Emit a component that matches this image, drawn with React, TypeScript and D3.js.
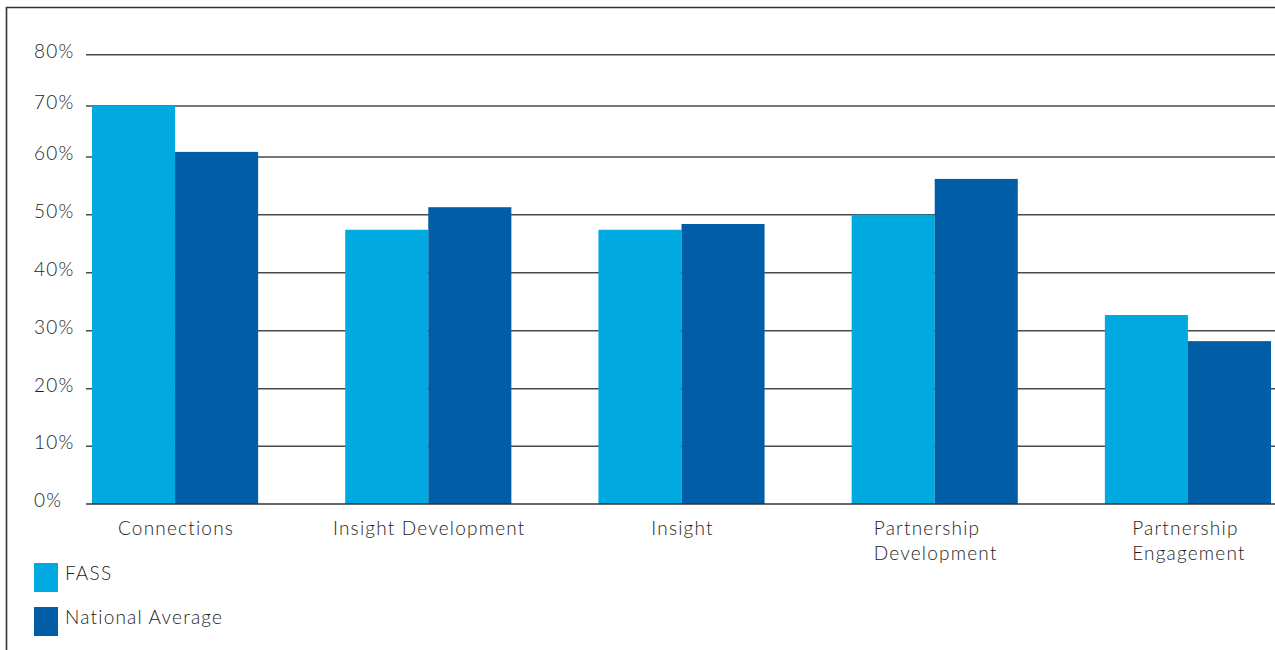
import React, { useEffect, useRef } from "react";
import * as d3 from "d3";

const categories = ["Connections", "Insight Development", "Insight", "Partnership Development", "Partnership Engagement"];
const categoryLines = [["Connections"], ["Insight Development"], ["Insight"], ["Partnership", "Development"], ["Partnership", "Engagement"]];
const seriesNames = ["FASS", "National Average"];
const fassValues = [70, 47.4, 47.4, 50, 32.7];
const nationalValues = [61, 51.3, 48.4, 56.2, 28.2];
const yTicks = [0, 10, 20, 30, 40, 50, 60, 70, 80];
const yTickLabels = ["0%", "10%", "20%", "30%", "40%", "50%", "60%", "70%", "80%"];
const colors = ["#00a9df", "#005da6"];

const W = 1275;
const H = 650;

export default function App() {
  const ref = useRef<SVGSVGElement>(null);

  useEffect(() => {
    const svg = d3.select(ref.current);
    svg.selectAll("*").remove();
    const font = "Lato, 'Open Sans', sans-serif";
    const textColor = "#1e1e1e";
    const fs = 19;
    const ls = 1.2;

    // frame
    svg.append("line").attr("x1", 6).attr("x2", W).attr("y1", 7.5).attr("y2", 7.5).attr("stroke", "#333").attr("stroke-width", 1.6);
    svg.append("line").attr("x1", 6.5).attr("x2", 6.5).attr("y1", 7).attr("y2", H).attr("stroke", "#333").attr("stroke-width", 1.6);

    // y scale (the source chart has uneven spacing, so use a piecewise linear scale)
    const y = d3.scaleLinear().domain(yTicks).range([504, 446.3, 388.7, 330.7, 272.7, 214.7, 157, 106, 54.7]);

    const x0 = d3.scaleBand<string>().domain(categories).range([92, 1271]).paddingInner(0.3439).paddingOuter(0);
    const x1 = d3.scaleBand<string>().domain(seriesNames).range([0, x0.bandwidth()]);

    // gridlines
    svg.append("g").selectAll("line").data(yTicks.filter((t) => t !== 0)).join("line")
      .attr("x1", 86).attr("x2", W)
      .attr("y1", (d) => y(d)).attr("y2", (d) => y(d))
      .attr("stroke", "#4a4a4a").attr("stroke-width", 1.6);

    // y labels
    svg.append("g").selectAll("text").data(yTicks).join("text")
      .attr("x", 34).attr("y", (d) => y(d) + 3)
      .attr("font-family", font).attr("font-weight", 300).attr("font-size", fs)
      .attr("letter-spacing", ls)
      .attr("fill", textColor)
      .text((d, i) => yTickLabels[i]);

    // bars
    const data = categories.map((c, i) => ({ c, vals: [fassValues[i], nationalValues[i]] }));
    const groups = svg.append("g").selectAll("g").data(data).join("g")
      .attr("transform", (d) => `translate(${x0(d.c)},0)`);
    groups.selectAll("rect").data((d) => d.vals.map((v, j) => ({ v, s: seriesNames[j], j }))).join("rect")
      .attr("x", (d) => x1(d.s)!).attr("width", x1.bandwidth())
      .attr("y", (d) => y(d.v)).attr("height", (d) => y(0) - y(d.v))
      .attr("fill", (d) => colors[d.j]);

    // baseline
    svg.append("line").attr("x1", 86).attr("x2", W).attr("y1", y(0)).attr("y2", y(0)).attr("stroke", "#333").attr("stroke-width", 1.6);

    // category labels
    categoryLines.forEach((lines, i) => {
      const cx = x0(categories[i])! + x0.bandwidth() / 2;
      const t = svg.append("text")
        .attr("font-family", font).attr("font-weight", 300).attr("font-size", fs)
        .attr("letter-spacing", ls).attr("fill", textColor);
      lines.forEach((l, k) => {
        t.append("tspan").attr("x", 0).attr("y", 535 + k * 25).text(l);
      });
      const bbox = (t.node() as SVGTextElement).getBBox();
      const shift = cx - bbox.width / 2 + 1;
      t.selectAll("tspan").attr("x", shift);
    });

    // legend
    const legend = svg.append("g");
    seriesNames.forEach((s, i) => {
      const yy = 563 + i * 44;
      legend.append("rect").attr("x", 34).attr("y", yy).attr("width", 24).attr("height", 29).attr("fill", colors[i]);
      legend.append("text").attr("x", 65).attr("y", yy + 17)
        .attr("font-family", font).attr("font-weight", 300).attr("font-size", fs)
        .attr("letter-spacing", ls).attr("fill", textColor).text(s);
    });
  }, []);

  return (
    <svg ref={ref} width={W} height={H} style={{ position: "absolute", left: 0, top: 0, background: "#fff" }} />
  );
}
